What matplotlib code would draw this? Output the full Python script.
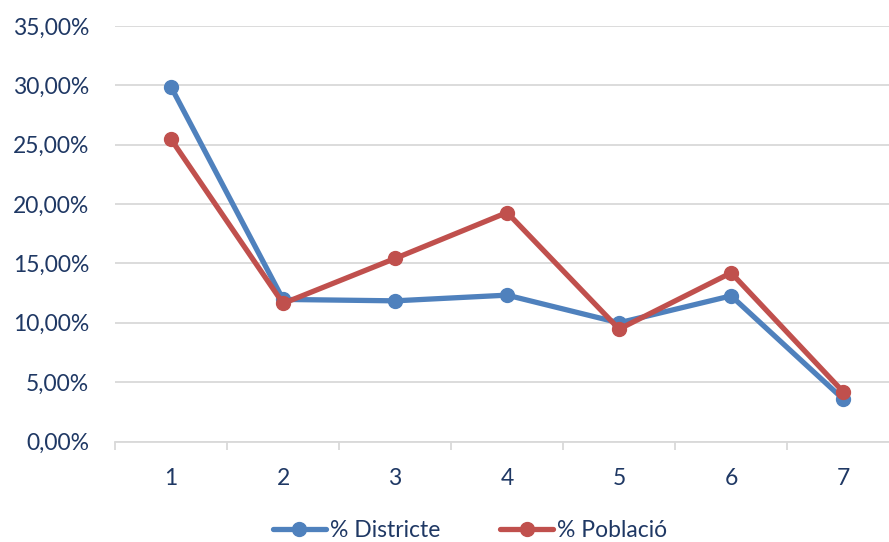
import matplotlib
matplotlib.use("Agg")
import matplotlib.pyplot as plt
from matplotlib.ticker import FuncFormatter, FixedLocator

categories = [1, 2, 3, 4, 5, 6, 7]
districte = [29.87, 11.97, 11.85, 12.33, 10.0, 12.27, 3.58]
poblacio = [25.46, 11.63, 15.42, 19.29, 9.47, 14.21, 4.19]
series_names = ["% Districte", "% Població"]

plt.rcParams['font.family'] = ['Lato', 'DejaVu Sans']
text_color = '#1F3864'
grid_color = '#D9D9D9'

fig = plt.figure(figsize=(8.89, 5.42), dpi=100)
ax = fig.add_axes([0.1294, 0.1854, 0.882, 0.7666])

ax.plot(categories, districte, color='#4F81BD', lw=3.8, marker='o', ms=10,
        label=series_names[0], solid_capstyle='round', zorder=3)
ax.plot(categories, poblacio, color='#C0504D', lw=3.8, marker='o', ms=10,
        label=series_names[1], solid_capstyle='round', zorder=4)

ax.set_xlim(0.5, 7.5)
ax.set_ylim(0, 35)
ax.set_yticks([0, 5, 10, 15, 20, 25, 30, 35])
ax.yaxis.set_major_formatter(FuncFormatter(lambda v, p: f"{v:.2f}%".replace('.', ',')))
ax.set_xticks(categories)
ax.set_xticklabels([str(c) for c in categories])
ax.xaxis.set_minor_locator(FixedLocator([0.5 + i for i in range(8)]))

ax.grid(axis='y', color=grid_color, lw=1.3, zorder=0)
for s in ['top', 'right', 'left']:
    ax.spines[s].set_visible(False)
ax.spines['bottom'].set_color(grid_color)
ax.spines['bottom'].set_linewidth(1.3)

ax.tick_params(axis='y', length=0, pad=18.5, labelsize=16.5, labelcolor=text_color)
ax.tick_params(axis='x', which='major', length=0, pad=19, labelsize=16.5, labelcolor=text_color)
ax.tick_params(axis='x', which='minor', length=6, width=1.3, color=grid_color)

leg = fig.legend(loc='center', bbox_to_anchor=(0.529, 0.022), ncol=2, frameon=False,
                 fontsize=16.5, handlelength=2.3, columnspacing=2.6, handletextpad=0.2,
                 borderpad=0)
for t in leg.get_texts():
    t.set_color(text_color)

fig.savefig('out.png', dpi=100)
